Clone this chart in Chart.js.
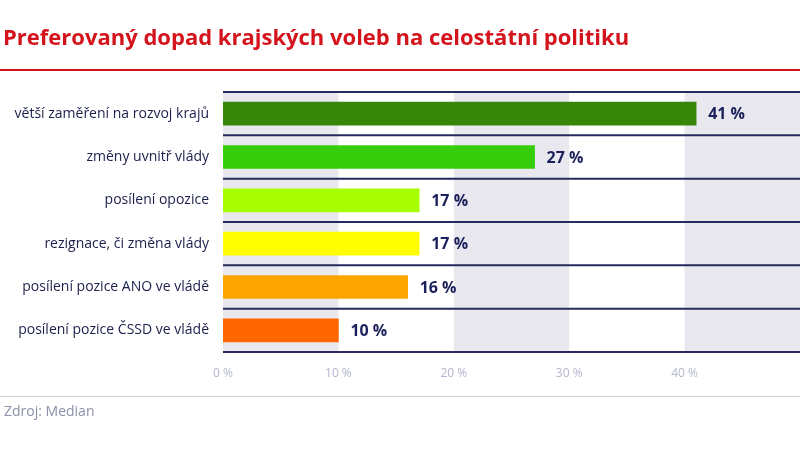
<!DOCTYPE html>
<html><head><meta charset="utf-8">
<script src="https://cdn.jsdelivr.net/npm/chart.js@4"></script>
<style>html,body{margin:0;padding:0;background:#fff}#w{width:800px;height:449px;position:relative}</style>
</head><body><div id="w"><canvas id="c"></canvas></div>
<script>
const categories=["větší zaměření na rozvoj krajů","změny uvnitř vlády","posílení opozice","rezignace, či změna vlády","posílení pozice ANO ve vládě","posílení pozice ČSSD ve vládě"];
const values=[41,27,17,17,16,10];
const colors=["#36860a","#37cd0b","#a8fd00","#fffd00","#ffa500","#ff6600"];
const tickValues=[0,10,20,30,40];
const deco={id:'deco',
 beforeDatasetsDraw(ch){const {ctx,chartArea:a,scales:{x,y}}=ch;ctx.save();
  ctx.fillStyle='#e8e8ee';
  for(let v=0;v<50;v+=20){ctx.fillRect(x.getPixelForValue(v),a.top,x.getPixelForValue(v+10)-x.getPixelForValue(v),a.bottom-a.top);}
  ctx.strokeStyle='#262a5c';ctx.lineWidth=2;
  const n=categories.length,h=(a.bottom-a.top)/n;
  for(let i=0;i<=n;i++){const yy=a.top+i*h;ctx.beginPath();ctx.moveTo(a.left,yy);ctx.lineTo(a.right,yy);ctx.stroke();}
  ctx.restore();},
 afterDraw(ch){const {ctx}=ch;ctx.save();
  ctx.fillStyle='#d4141c';ctx.font='bold 22px "Open Sans", sans-serif';ctx.textBaseline='middle';ctx.fillText("Preferovaný dopad krajských voleb na celostátní politiku",3,39);
  ctx.fillStyle='#d4141c';ctx.fillRect(0,69,800,2);
  ctx.fillStyle='#cfd0d8';ctx.fillRect(0,396,800,1);
  ctx.fillStyle='#8c90a8';ctx.font='14px "Open Sans", sans-serif';ctx.fillText("Zdroj: Median",4,412);
  const m=ch.getDatasetMeta(0);ctx.fillStyle='#1b1f5a';ctx.font='bold 16px "Open Sans", sans-serif';ctx.textBaseline='middle';
  m.data.forEach((b,i)=>{ctx.fillText(values[i]+' %',b.x+12,b.y+1);});
  ctx.restore();}};
new Chart(document.getElementById('c'),{type:'bar',
 data:{labels:categories,datasets:[{data:values,backgroundColor:colors,barThickness:23}]},
 options:{indexAxis:'y',responsive:true,maintainAspectRatio:false,animation:false,
  layout:{padding:{top:92,right:0,left:0,bottom:0}},
  plugins:{legend:{display:false},tooltip:{enabled:false}},
  scales:{
   x:{min:0,max:50,grid:{display:false},border:{display:false},
      afterBuildTicks(s){s.ticks=tickValues.map(v=>({value:v}));},
      afterFit(s){s.height=97;},
      ticks:{color:'#b3b6cc',font:{size:12,family:'"Open Sans", sans-serif'},padding:6,callback:v=>v+' %'}},
   y:{grid:{display:false},border:{display:false},afterFit(s){s.width=223;},
      ticks:{color:'#1b1f4b',font:{size:14,family:'"Open Sans", sans-serif'},padding:6}}
  }},plugins:[deco]});
</script></body></html>
